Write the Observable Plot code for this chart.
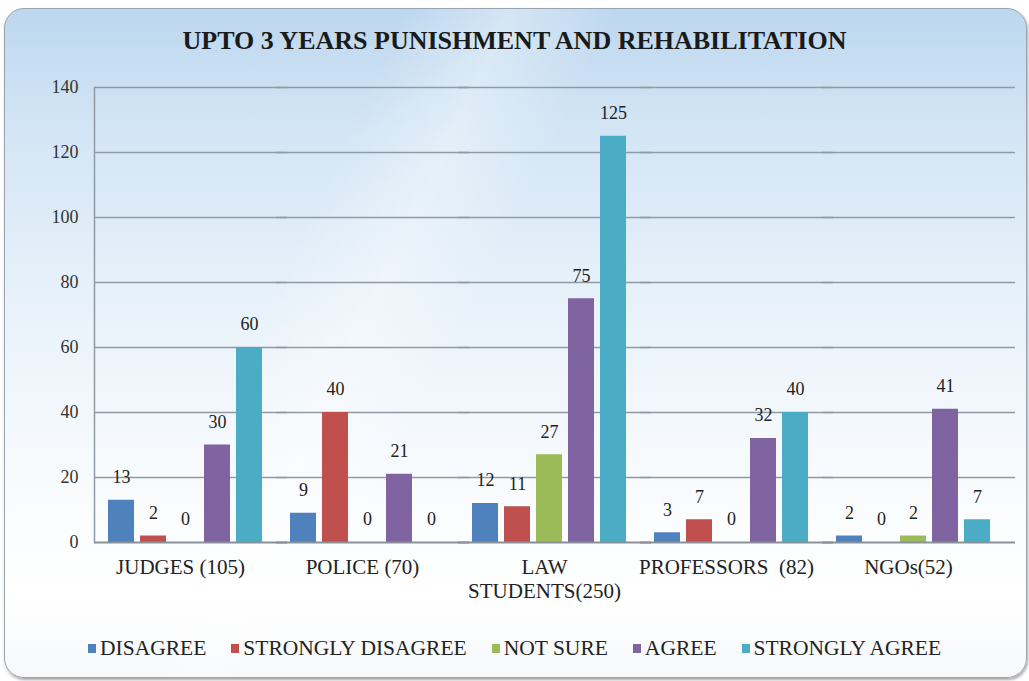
<!DOCTYPE html>
<html>
<head>
<meta charset="utf-8">
<script src="https://cdn.jsdelivr.net/npm/d3@7"></script>
<script src="https://cdn.jsdelivr.net/npm/@observablehq/plot@0.6"></script>
<style>
  html, body { margin: 0; padding: 0; width: 1029px; height: 681px; overflow: hidden; background: #ffffff; }
  #page { position: relative; width: 1029px; height: 681px; font-family: "Liberation Serif", "DejaVu Serif", serif; }
  #card {
    position: absolute; left: 4px; top: 8px; width: 1021px; height: 668px;
    border-radius: 20px; border: 1px solid #9aa4ae;
    box-shadow: 1px 2px 3px rgba(0,0,0,0.35);
    background:
      linear-gradient(115deg, rgba(255,255,255,0) 30%, rgba(255,255,255,0.35) 38%, rgba(255,255,255,0) 46%),
      linear-gradient(180deg, #bdd7ef 0%, #d3e5f5 18%, #e9f2fa 45%, #f8fbfe 70%, #ffffff 88%, #f6f8fa 100%);
  }
  #title {
    position: absolute; left: 0; top: 26px; width: 1029px; text-align: center;
    font-weight: bold; font-size: 26px; color: #1a1a1a;
  }
  #chart { position: absolute; left: 0; top: 0; }
  #legend {
    position: absolute; left: 88px; top: 636px; display: flex; gap: 25px;
    font-size: 21.5px; color: #222; white-space: nowrap;
  }
  #legend .item { display: flex; align-items: center; }
  #legend .sw { width: 8px; height: 9px; margin-right: 4px; }
</style>
</head>
<body>
<div id="page">
  <div id="card"></div>
  <div id="title">UPTO 3 YEARS PUNISHMENT AND REHABILITATION</div>
  <div id="chart"></div>
  <div id="legend"></div>
</div>
<script>
const groups = ["JUDGES (105)", "POLICE (70)", "LAW\nSTUDENTS(250)", "PROFESSORS  (82)", "NGOs(52)"];
const series = ["DISAGREE", "STRONGLY DISAGREE", "NOT SURE", "AGREE", "STRONGLY AGREE"];
const disagree = [13, 9, 12, 3, 2];
const stronglyDisagree = [2, 40, 11, 7, 0];
const notSure = [0, 0, 27, 0, 2];
const agree = [30, 21, 75, 32, 41];
const stronglyAgree = [60, 0, 125, 40, 7];
const yTicks = [0, 20, 40, 60, 80, 100, 120, 140];
const colors = ["#4f81bd", "#c0504d", "#9bbb59", "#8064a2", "#4bacc6"];

const valuesBySeries = [disagree, stronglyDisagree, notSure, agree, stronglyAgree];
const data = [];
groups.forEach((g, gi) => {
  series.forEach((s, si) => {
    data.push({group: g, series: s, value: valuesBySeries[si][gi]});
  });
});

const plot = Plot.plot({
  width: 1029,
  height: 620,
  marginTop: 87,
  marginBottom: 78,
  marginLeft: 92,
  marginRight: 24,
  style: {background: "transparent", fontFamily: "'Liberation Serif', 'DejaVu Serif', serif", color: "#333"},
  fx: {domain: groups, axis: null, padding: 0},
  x: {domain: series, axis: null, paddingInner: 0.2, paddingOuter: 0.4},
  y: {domain: [0, 140], ticks: yTicks, tickSize: 0, tickPadding: 16, label: null, tickFormat: d => String(d)},
  color: {domain: series, range: colors},
  marks: [
    Plot.ruleY(yTicks.filter(d => d > 0), {stroke: "#8f9aa5", strokeWidth: 1.3, insetRight: -11}),
    Plot.frame({anchor: "left", facetAnchor: "left", stroke: "#8f9aa5", strokeWidth: 1.5}),
    Plot.barY(data, {fx: "group", x: "series", y: "value", fill: "series"}),
    Plot.ruleY([0], {stroke: "#8a9097", strokeWidth: 1.8, insetRight: -11}),
    Plot.text(data, {fx: "group", x: "series", y: "value", text: d => String(d.value), dy: -23, fontSize: 18, fill: "#222"}),
    Plot.text(groups, {fx: d => d, text: d => d, frameAnchor: "bottom", lineAnchor: "top", dy: 14, dx: -5, lineHeight: 1.15, fontSize: 21, fill: "#222"})
  ]
});
plot.querySelectorAll('[aria-label^="y-axis"] text').forEach(t => { t.style.fontSize = "18px"; t.style.fill = "#333"; });
document.getElementById("chart").appendChild(plot);

const legend = document.getElementById("legend");
series.forEach((s, i) => {
  const item = document.createElement("div");
  item.className = "item";
  const sw = document.createElement("div");
  sw.className = "sw";
  sw.style.background = colors[i];
  const label = document.createElement("span");
  label.textContent = s;
  item.appendChild(sw);
  item.appendChild(label);
  legend.appendChild(item);
});
</script>
</body>
</html>
